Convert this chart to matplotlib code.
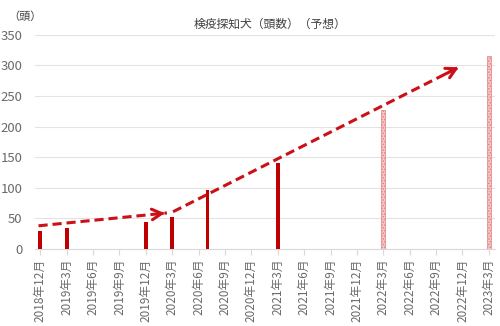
import matplotlib.pyplot as plt

plt.rcParams['font.family'] = ['Noto Sans CJK JP', 'DejaVu Sans']
plt.rcParams['hatch.linewidth'] = 0.8

# month index counted from 2018年12月
tick_labels = ['2018年12月', '2019年3月', '2019年6月', '2019年9月', '2019年12月',
               '2020年3月', '2020年6月', '2020年9月', '2020年12月', '2021年3月',
               '2021年6月', '2021年9月', '2021年12月', '2022年3月', '2022年6月',
               '2022年9月', '2022年12月', '2023年3月']
tick_months = [3 * i for i in range(len(tick_labels))]

actual_months = [0, 3, 12, 15, 19, 27]
actual_values = [30, 34, 44, 53, 96, 140]
forecast_months = [39, 51]
forecast_values = [227, 315]

# trend arrows: (start month, start value, end month, end value)
arrow1 = (-0.2, 38, 14.4, 59)
arrow2 = (15.1, 61, 47.7, 298)

red = '#c00000'
gray = '#6a6a6a'

fig = plt.figure(figsize=(5, 3.26), dpi=100)
ax = fig.add_axes([0.07, 0.236, 0.92, 0.657])

ax.bar(actual_months, actual_values, width=0.42, color=red, zorder=3)
ax.bar(forecast_months, forecast_values, width=0.45, color='#f6c8c8',
       edgecolor='#e08080', hatch='......', linewidth=0.5, zorder=3)

for x0, y0, x1, y1 in [arrow1, arrow2]:
    ax.plot([x0, x1], [y0, y1], color='#cc1018', lw=2.2, ls=(0, (3, 1.6)), zorder=4)
    dx, dy = x1 - x0, y1 - y0
    ax.annotate('', xy=(x1 + dx * 0.005, y1 + dy * 0.005), xytext=(x1 - dx * 0.06, y1 - dy * 0.06),
                arrowprops=dict(arrowstyle='->,head_length=0.7,head_width=0.38',
                                color='#cc1018', lw=2.2), zorder=4)

ax.set_xlim(-0.6, 51.7)
ax.set_ylim(0, 350)
ax.set_yticks(range(0, 351, 50))
ax.set_xticks(tick_months)
ax.set_xticklabels(tick_labels, rotation=90, fontsize=8.5, color=gray)
ax.tick_params(axis='y', length=0, labelsize=9.5, colors=gray, pad=9)
ax.tick_params(axis='x', length=4, color='#d9d9d9', pad=3)
ax.grid(axis='y', color='#e3e3e3', lw=0.8, zorder=0)
for s in ['top', 'right', 'left']:
    ax.spines[s].set_visible(False)
ax.spines['bottom'].set_color('#d9d9d9')

fig.text(0.54, 0.925, '検疫探知犬（頭数）（予想）', ha='center', va='center',
         fontsize=8.5, color='#404040')
fig.text(0.05, 0.948, '（頭）', ha='center', va='center', fontsize=8, color='#404040')

fig.savefig('out.png', dpi=100)
